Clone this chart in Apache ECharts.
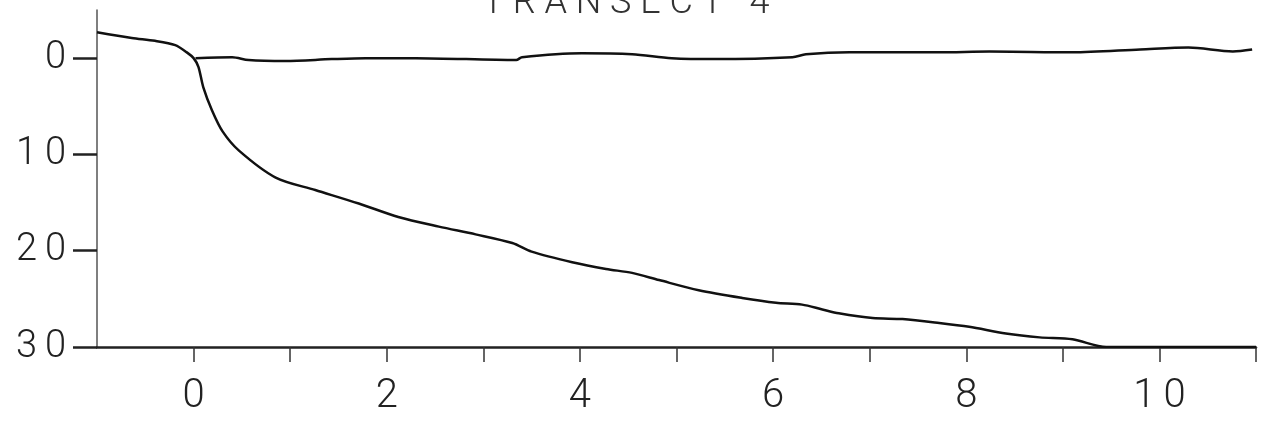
<!DOCTYPE html>
<html>
<head>
<meta charset="utf-8">
<script src="https://cdn.jsdelivr.net/npm/echarts@6/dist/echarts.min.js"></script>
<style>
  html, body { margin: 0; padding: 0; background: #fff; }
  #chart { width: 1263px; height: 422px; }
</style>
</head>
<body>
<div id="chart"></div>
<script>
// bottom profile: distance, depth
const profileX = [-1.0, -0.64, -0.4, -0.19, -0.07, 0, 0.05, 0.1, 0.19, 0.3, 0.47, 0.85, 1.26, 1.71, 2.12, 2.54, 2.92, 3.3, 3.5, 3.92, 4.27, 4.54, 4.82, 5.23, 5.68, 6.03, 6.3, 6.51, 6.68, 7.03, 7.34, 7.72, 8.03, 8.41, 8.76, 9.1, 9.45, 10, 11];
const profileY = [-2.7, -2.1, -1.8, -1.35, -0.6, 0, 0.9, 3.0, 5.4, 7.6, 9.6, 12.4, 13.7, 15.1, 16.5, 17.5, 18.3, 19.2, 20.1, 21.2, 21.9, 22.3, 23.05, 24.1, 24.9, 25.4, 25.6, 26.1, 26.5, 27.0, 27.1, 27.5, 27.9, 28.6, 29.0, 29.2, 30, 30, 30];

// water surface line
const surfaceX = [0.02, 0.4, 0.57, 0.95, 1.43, 1.78, 2.3, 3.34, 3.4, 4.02, 4.54, 4.95, 5.4, 6.2, 6.34, 6.79, 7.72, 8.24, 9.1, 9.8, 10.3, 10.76, 10.96];
const surfaceY = [0, -0.1, 0.2, 0.3, 0.1, 0, 0, 0.2, -0.1, -0.5, -0.4, 0, 0.1, -0.1, -0.4, -0.6, -0.6, -0.7, -0.6, -0.9, -1.1, -0.7, -0.9];

const xTicks = [0, 1, 2, 3, 4, 5, 6, 7, 8, 9, 10, 11];
const xLabels = [0, 2, 4, 6, 8, 10];
const yTicks = [0, 10, 20, 30];

const zip = (xs, ys) => xs.map((x, i) => [x, ys[i]]);

const labelFont = {
  fontFamily: 'Roboto, "DejaVu Sans", sans-serif',
  fontWeight: 300,
  color: '#222',
};

const chart = echarts.init(document.getElementById('chart'));

chart.setOption({
  animation: false,
  title: {
    text: 'T R A N S E C T   4',
    left: 621,
    top: -19,
    textAlign: 'center',
    textStyle: { ...labelFont, fontSize: 36, color: '#333' },
  },
  grid: { left: 97, right: 7, top: 10, bottom: 75 },
  xAxis: {
    type: 'value',
    min: -1,
    max: 11,
    splitLine: { show: false },
    axisLine: { onZero: false, lineStyle: { color: '#222', width: 2.5 } },
    axisTick: {
      customValues: xTicks,
      length: 15,
      lineStyle: { color: '#333', width: 1.5 },
    },
    axisLabel: {
      customValues: xLabels,
      margin: 30,
      fontSize: 40,
      ...labelFont,
      formatter: (v) => String(v).split('').join('\u2009'),
    },
  },
  yAxis: {
    type: 'value',
    min: -5,
    max: 30,
    inverse: true,
    splitLine: { show: false },
    axisLine: { onZero: false, lineStyle: { color: '#555', width: 1.5 } },
    axisTick: {
      customValues: yTicks,
      length: 24,
      lineStyle: { color: '#222', width: 2.5 },
    },
    axisLabel: {
      customValues: yTicks,
      margin: 31,
      fontSize: 38,
      ...labelFont,
      formatter: (v) => String(v).split('').join('\u2009'),
    },
  },
  series: [
    {
      name: 'bottom',
      type: 'line',
      data: zip(profileX, profileY),
      smooth: 0.3,
      showSymbol: false,
      lineStyle: { color: '#111', width: 2.5 },
    },
    {
      name: 'surface',
      type: 'line',
      data: zip(surfaceX, surfaceY),
      smooth: 0.3,
      showSymbol: false,
      lineStyle: { color: '#111', width: 2.5 },
    },
  ],
});
</script>
</body>
</html>
